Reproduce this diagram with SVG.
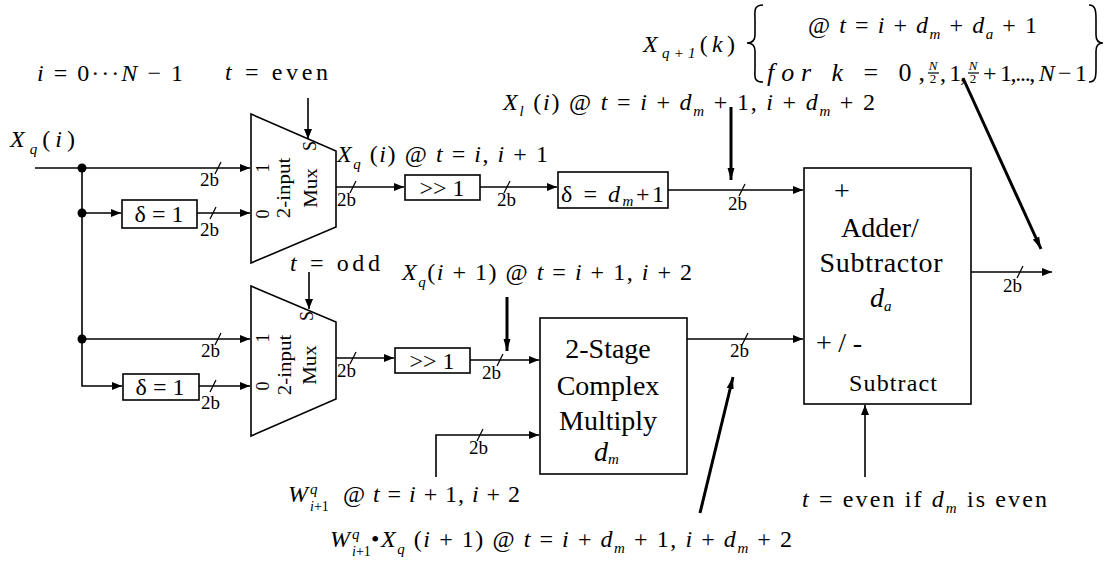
<svg xmlns="http://www.w3.org/2000/svg" width="1109" height="563" viewBox="0 0 1109 563">
<style>
.ln{stroke:#000;stroke-width:1.6;fill:none}
.tk{stroke:#000;stroke-width:3;fill:none}
.sl{stroke:#000;stroke-width:1.2}
.box{fill:#fff;stroke:#000;stroke-width:1.6}
text{font-family:"Times New Roman","Liberation Serif","Noto Serif","DejaVu Serif",serif;fill:#000}
.m{font-size:24px}
.i{font-style:italic}
.sb{font-size:15px;font-style:italic}
.bw{font-size:19px}
.ml{font-size:18px}
.mx{font-size:21px}
.blk{font-size:28px}
</style>
<defs>
<marker id="ar" markerWidth="10" markerHeight="8" refX="10" refY="4" orient="auto" markerUnits="userSpaceOnUse"><path d="M0,0 L10,4 L0,8 z" fill="#000"/></marker>
<marker id="at" markerWidth="12" markerHeight="8" refX="12" refY="4" orient="auto" markerUnits="userSpaceOnUse"><path d="M0,0.5 L12,4 L0,7.5 z" fill="#000"/></marker>
</defs>

<g id="connectors">
<path class="ln" d="M35,168 H250" marker-end="url(#ar)"/>
<path class="ln" d="M82,168 V386 H122" marker-end="url(#ar)"/>
<path class="ln" d="M82,213 H121" marker-end="url(#ar)"/>
<path class="ln" d="M197,213 H250" marker-end="url(#ar)"/>
<path class="ln" d="M82,339 H250" marker-end="url(#ar)"/>
<path class="ln" d="M199,386 H250" marker-end="url(#ar)"/>
<path class="ln" d="M308,98 V139" marker-end="url(#ar)"/>
<path class="ln" d="M309,272 V309" marker-end="url(#ar)"/>
<path class="ln" d="M336,187 H404" marker-end="url(#ar)"/>
<path class="ln" d="M480,187 H557" marker-end="url(#ar)"/>
<path class="ln" d="M668,190 H803" marker-end="url(#ar)"/>
<path class="ln" d="M336,358 H394" marker-end="url(#ar)"/>
<path class="ln" d="M470,360 H539" marker-end="url(#ar)"/>
<path class="ln" d="M436,477 V435 H539" marker-end="url(#ar)"/>
<path class="ln" d="M687,339 H803" marker-end="url(#ar)"/>
<path class="ln" d="M971,272 H1052" marker-end="url(#ar)"/>
<path class="ln" d="M865,477 V405" marker-end="url(#ar)"/>
<path class="tk" d="M731,107 V180" marker-end="url(#at)"/>
<path class="tk" d="M507,297 V351" marker-end="url(#at)"/>
<path class="tk" d="M700,513 L733,377" marker-end="url(#at)"/>
<path class="tk" d="M963,78 L1041,249" marker-end="url(#at)"/>
<circle cx="82" cy="168" r="4.5" fill="#000"/>
<circle cx="82" cy="213" r="4.5" fill="#000"/>
<circle cx="82" cy="339" r="4.5" fill="#000"/>
<g class="sl">
<line x1="215" y1="174" x2="221" y2="162"/>
<line x1="210" y1="219" x2="216" y2="207"/>
<line x1="350" y1="193" x2="356" y2="181"/>
<line x1="504" y1="193" x2="510" y2="181"/>
<line x1="739" y1="196" x2="745" y2="184"/>
<line x1="1017" y1="278" x2="1023" y2="266"/>
<line x1="215" y1="345" x2="221" y2="333"/>
<line x1="210" y1="392" x2="216" y2="380"/>
<line x1="350" y1="364" x2="356" y2="352"/>
<line x1="497" y1="366" x2="503" y2="354"/>
<line x1="477" y1="441" x2="483" y2="429"/>
<line x1="742" y1="345" x2="748" y2="333"/>
</g>
<g class="bw">
<text x="200" y="186" class="bw" textLength="19">2b</text>
<text x="200" y="236" class="bw" textLength="19">2b</text>
<text x="337" y="206" class="bw" textLength="19">2b</text>
<text x="497" y="206" class="bw" textLength="19">2b</text>
<text x="728" y="210" class="bw" textLength="19">2b</text>
<text x="1003" y="292" class="bw" textLength="19">2b</text>
<text x="201" y="357" class="bw" textLength="19">2b</text>
<text x="201" y="409" class="bw" textLength="19">2b</text>
<text x="337" y="377" class="bw" textLength="19">2b</text>
<text x="482" y="379" class="bw" textLength="19">2b</text>
<text x="469" y="454" class="bw" textLength="19">2b</text>
<text x="730" y="357" class="bw" textLength="19">2b</text>
</g>
</g>

<g id="mux1">
<polygon class="box" points="251,114 336,151 336,227 251,263"/>
<text class="ml" text-anchor="middle" transform="translate(269,168) rotate(-90)">1</text>
<text class="ml" text-anchor="middle" transform="translate(269,214) rotate(-90)">0</text>
<text class="ml" text-anchor="middle" transform="translate(316,146) rotate(-90)">S</text>
<text class="mx" text-anchor="middle" transform="translate(290,188) rotate(-90) scale(1,0.85)">2-input</text>
<text class="mx" text-anchor="middle" transform="translate(317,188) rotate(-90) scale(1,0.85)">Mux</text>
</g>
<g id="mux2">
<polygon class="box" points="251,286 336,322 336,399 251,436"/>
<text class="ml" text-anchor="middle" transform="translate(269,338) rotate(-90)">1</text>
<text class="ml" text-anchor="middle" transform="translate(269,386) rotate(-90)">0</text>
<text class="ml" text-anchor="middle" transform="translate(313,316) rotate(-90)">S</text>
<text class="mx" text-anchor="middle" transform="translate(291,365) rotate(-90) scale(1,0.85)">2-input</text>
<text class="mx" text-anchor="middle" transform="translate(316,365) rotate(-90) scale(1,0.85)">Mux</text>
</g>
<g id="delay1">
<rect class="box" x="122" y="200" width="75" height="28"/>
<text class="m" x="159" y="222" text-anchor="middle">δ = 1</text>
</g>
<g id="delay2">
<rect class="box" x="123" y="374" width="76" height="26"/>
<text class="m" x="160" y="395" text-anchor="middle">δ = 1</text>
</g>
<g id="shift1">
<rect class="box" x="405" y="175" width="75" height="25"/>
<text class="m" x="442" y="196" text-anchor="middle">&gt;&gt; 1</text>
</g>
<g id="shift2">
<rect class="box" x="395" y="348" width="75" height="25"/>
<text class="m" x="432" y="369" text-anchor="middle">&gt;&gt; 1</text>
</g>
<g id="delay3">
<rect class="box" x="558" y="172" width="110" height="36"/>
<text class="m" x="561" y="202" textLength="103">δ = <tspan class="i">d</tspan><tspan class="sb" dy="4">m</tspan><tspan dy="-4">+1</tspan></text>
</g>
<g id="cmul">
<rect class="box" x="540" y="318" width="147" height="156"/>
<text class="blk" x="608" y="358" text-anchor="middle">2-Stage</text>
<text class="blk" x="608" y="395" text-anchor="middle">Complex</text>
<text class="blk" x="608" y="430" text-anchor="middle">Multiply</text>
<text class="blk" x="594" y="461"><tspan class="i">d</tspan><tspan class="sb" dy="3" font-size="18">m</tspan></text>
</g>
<g id="addsub">
<rect class="box" x="804" y="168" width="167" height="236"/>
<text class="blk" x="842" y="200" text-anchor="middle">+</text>
<text class="blk" x="880" y="237" text-anchor="middle">Adder/</text>
<text class="blk" x="881" y="272" text-anchor="middle" textLength="123">Subtractor</text>
<text class="blk" x="870" y="307"><tspan class="i">d</tspan><tspan class="sb" dy="4" font-size="18">a</tspan></text>
<text class="blk" x="816" y="352" textLength="46">+/-</text>
<text x="849" y="391" font-size="24" textLength="88">Subtract</text>
</g>

<g id="labels">
<text class="m" x="10" y="147" textLength="65"><tspan class="i">X</tspan><tspan class="sb" dy="7">q</tspan><tspan dy="-7">(</tspan><tspan class="i">i</tspan>)</text>
<text class="m" x="37" y="81" textLength="146"><tspan class="i">i</tspan> = 0···<tspan class="i">N</tspan> − 1</text>
<text class="m" x="225" y="80" textLength="103"><tspan class="i">t</tspan> =  even</text>
<text class="m" x="337" y="162" textLength="211"><tspan class="i">X</tspan><tspan class="sb" dy="7">q</tspan><tspan dy="-7"> (</tspan><tspan class="i">i</tspan>) @ <tspan class="i">t</tspan> = <tspan class="i">i</tspan>, <tspan class="i">i</tspan> + 1</text>
<text class="m" x="290" y="271" textLength="90"><tspan class="i">t</tspan> =  odd</text>
<text class="m" x="402" y="280" textLength="290"><tspan class="i">X</tspan><tspan class="sb" dy="7">q</tspan><tspan dy="-7">(</tspan><tspan class="i">i</tspan> + 1) @ <tspan class="i">t</tspan> = <tspan class="i">i</tspan> + 1, <tspan class="i">i</tspan> + 2</text>
<text class="m" x="643" y="52" textLength="92"><tspan class="i">X</tspan><tspan class="sb" dy="6">q+1</tspan><tspan dy="-6">(</tspan><tspan class="i">k</tspan>)</text>
<path class="ln" d="M763,5 C753,5 755,12 755,20 L755,35 C755,40 752,43 747,43 C752,43 755,46 755,51 L755,68 C755,76 753,82 763,82"/>
<path class="ln" d="M1089,5 C1096,5 1096,12 1096,20 L1096,35 C1096,40 1098,43 1103,43 C1098,43 1096,46 1096,51 L1096,68 C1096,76 1096,82 1089,82"/>
<text class="m" x="808" y="33" textLength="229">@ <tspan class="i">t</tspan> = <tspan class="i">i</tspan> + <tspan class="i">d</tspan><tspan class="sb" dy="6">m</tspan><tspan dy="-6"> + </tspan><tspan class="i">d</tspan><tspan class="sb" dy="6">a</tspan><tspan dy="-6"> + 1</tspan></text>
<text x="767" y="81" font-size="26" textLength="158"><tspan class="i">for</tspan> <tspan class="i">k</tspan> = 0,</text>
<text class="i" x="933" y="70" font-size="13" text-anchor="middle">N</text>
<line class="sl" x1="928" y1="73" x2="939" y2="73"/>
<text x="933" y="83" font-size="13" text-anchor="middle">2</text>
<text class="m" x="940" y="81" textLength="26">, 1,</text>
<text class="i" x="973" y="70" font-size="13" text-anchor="middle">N</text>
<line class="sl" x1="968" y1="73" x2="979" y2="73"/>
<text x="973" y="83" font-size="13" text-anchor="middle">2</text>
<text class="m" x="983" y="81" textLength="104">+ 1,..., <tspan class="i">N</tspan> − 1</text>
<text class="m" x="503" y="110" textLength="372"><tspan class="i">X</tspan><tspan class="sb" dy="6">l</tspan><tspan dy="-6"> (</tspan><tspan class="i">i</tspan>) @ <tspan class="i">t</tspan> = <tspan class="i">i</tspan> + <tspan class="i">d</tspan><tspan class="sb" dy="6">m</tspan><tspan dy="-6"> + 1, </tspan><tspan class="i">i</tspan> + <tspan class="i">d</tspan><tspan class="sb" dy="6">m</tspan><tspan dy="-6"> + 2</tspan></text>
<text class="m i" x="288" y="502">W</text>
<text class="sb" x="310" y="494">q</text>
<text x="310" y="511" font-size="14"><tspan class="i">i</tspan>+1</text>
<text class="m" x="343" y="502" textLength="177">@ <tspan class="i">t</tspan> = <tspan class="i">i</tspan> + 1, <tspan class="i">i</tspan> + 2</text>
<text class="m i" x="330" y="547">W</text>
<text class="sb" x="352" y="539">q</text>
<text x="352" y="556" font-size="14"><tspan class="i">i</tspan>+1</text>
<text class="m" x="371" y="547" textLength="421">•<tspan class="i">X</tspan><tspan class="sb" dy="7">q</tspan><tspan dy="-7"> (</tspan><tspan class="i">i</tspan> + 1) @ <tspan class="i">t</tspan> = <tspan class="i">i</tspan> + <tspan class="i">d</tspan><tspan class="sb" dy="6">m</tspan><tspan dy="-6"> + 1, </tspan><tspan class="i">i</tspan> + <tspan class="i">d</tspan><tspan class="sb" dy="6">m</tspan><tspan dy="-6"> + 2</tspan></text>
<text class="m" x="802" y="507" textLength="245"><tspan class="i">t</tspan> = even if <tspan class="i">d</tspan><tspan class="sb" dy="6">m</tspan><tspan dy="-6">  is even</tspan></text>
</g>
</svg>
